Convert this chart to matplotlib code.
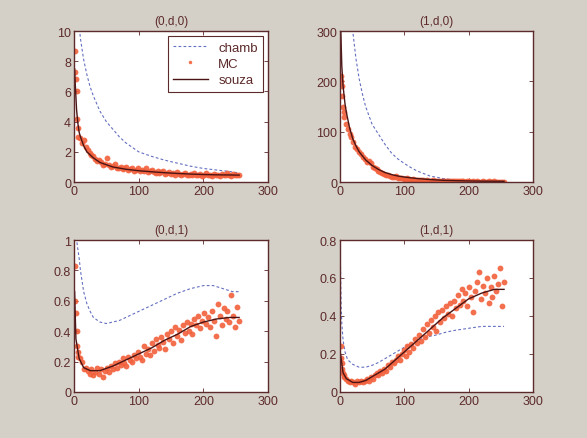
import numpy as np
import matplotlib
matplotlib.use('Agg')
import matplotlib.pyplot as plt

# positions en x des points Monte Carlo (communes aux 4 panneaux)
mc_x = [1, 2, 3, 4, 5, 6, 7] + list(range(9, 256, 3))

# ---- (0,d,0)
mc_000 = [8.7, 7.3, 6.8, 6.0, 4.2, 3.6, 3.0,
          2.9, 2.6, 2.8, 2.3, 2.1, 1.9, 1.8, 1.7, 1.5, 1.4,
          1.45, 1.3, 1.1, 1.2, 1.6, 1.1, 1.0, 1.05, 1.2, 0.95,
          0.9, 1.0, 0.85, 0.9, 1.0, 0.8, 0.85, 0.95, 0.75, 0.8,
          0.9, 0.7, 0.8, 0.75, 0.9, 0.65, 0.7, 0.8, 0.65, 0.6,
          0.75, 0.6, 0.65, 0.7, 0.55, 0.6, 0.65, 0.55, 0.6, 0.5,
          0.65, 0.55, 0.45, 0.55, 0.6, 0.5, 0.45, 0.55, 0.5, 0.6,
          0.45, 0.5, 0.55, 0.4, 0.5, 0.6, 0.45, 0.5, 0.4, 0.55,
          0.5, 0.45, 0.4, 0.55, 0.5, 0.45, 0.6, 0.5, 0.4, 0.55,
          0.5, 0.45, 0.5]
ch_x_000 = [5, 8, 10, 15, 20, 25, 30, 40, 50, 60, 70, 80, 90, 100, 120, 140, 160, 180, 200, 220, 240, 255]
ch_000 = [14, 10.4, 9.5, 8.1, 7.1, 6.3, 5.7, 4.7, 4.0, 3.5, 3.0, 2.6, 2.3, 2.0, 1.7, 1.45, 1.25, 1.05, 0.9, 0.8, 0.7, 0.6]
sz_x_000 = [1, 2, 4, 6, 8, 10, 15, 20, 30, 40, 50, 60, 80, 100, 120, 140, 160, 180, 200, 220, 240, 255]
sz_000 = [7.5, 6.5, 4.8, 3.9, 3.3, 3.0, 2.4, 2.0, 1.6, 1.3, 1.15, 1.0, 0.85, 0.75, 0.68, 0.62, 0.57, 0.53, 0.5, 0.48, 0.47, 0.46]

# ---- (1,d,0)
mc_100 = [210, 200, 190, 170, 150, 140, 130,
          115, 105, 95, 90, 80, 70, 65, 60, 55, 50,
          45, 40, 42, 38, 30, 28, 25, 22, 20, 18,
          16, 15, 14, 13, 11, 10, 12, 9, 8, 9,
          7, 6, 8, 6, 5, 6, 5, 4, 5, 4,
          4, 3, 4, 3, 3, 4, 3, 2, 3, 2,
          3, 2, 2, 3, 2, 2, 2, 3, 2, 2,
          2, 2, 1, 2, 2, 1, 2, 1, 2, 1,
          1, 2, 1, 1, 2, 1, 1, 2, 1, 1,
          1, 1, 1]
ch_x_100 = [15, 20, 25, 30, 35, 40, 50, 60, 70, 80, 90, 100, 110, 120, 140, 160, 180, 200, 220, 240, 255]
ch_100 = [380, 300, 245, 205, 175, 150, 115, 95, 75, 58, 46, 37, 29, 22, 12, 7, 4, 2.5, 1.5, 1.0, 0.7]
sz_x_100 = [1, 3, 5, 8, 10, 15, 20, 25, 30, 40, 50, 60, 70, 80, 90, 100, 120, 140, 160, 180, 200, 220, 255]
sz_100 = [320, 230, 190, 155, 139, 108, 86, 72, 60, 44, 33, 25, 19, 15, 12, 10, 7, 5, 3.5, 2.8, 2.2, 1.8, 1.5]

# ---- (0,d,1)
mc_001 = [0.83, 0.60, 0.52, 0.40, 0.30, 0.26, 0.23,
          0.22, 0.20, 0.15, 0.16, 0.14, 0.12, 0.15, 0.11, 0.13, 0.16,
          0.12, 0.15, 0.10, 0.14, 0.16, 0.13, 0.17, 0.15, 0.19, 0.16,
          0.20, 0.18, 0.22, 0.19, 0.17, 0.23, 0.21, 0.20, 0.24, 0.22,
          0.26, 0.23, 0.21, 0.30, 0.25, 0.28, 0.24, 0.32, 0.27, 0.35,
          0.31, 0.29, 0.36, 0.33, 0.28, 0.38, 0.35, 0.40, 0.32, 0.43,
          0.37, 0.41, 0.34, 0.44, 0.39, 0.46, 0.40, 0.45, 0.38, 0.48,
          0.44, 0.50, 0.42, 0.47, 0.52, 0.45, 0.49, 0.43, 0.53, 0.47,
          0.37, 0.58, 0.50, 0.44, 0.55, 0.48, 0.53, 0.46, 0.64, 0.50,
          0.43, 0.56, 0.47]
ch_x_001 = [3, 5, 8, 10, 15, 20, 25, 30, 40, 50, 60, 70, 80, 100, 120, 140, 160, 180, 200, 215, 230, 245, 255]
ch_001 = [1.05, 0.97, 0.88, 0.80, 0.66, 0.58, 0.53, 0.49, 0.46, 0.45, 0.46, 0.47, 0.49, 0.53, 0.57, 0.61, 0.65, 0.68, 0.70, 0.70, 0.68, 0.66, 0.66]
sz_x_001 = [1, 3, 8, 15, 25, 40, 60, 80, 100, 120, 140, 160, 180, 200, 220, 240, 255]
sz_001 = [0.66, 0.35, 0.22, 0.16, 0.14, 0.14, 0.17, 0.21, 0.25, 0.29, 0.34, 0.38, 0.43, 0.46, 0.48, 0.49, 0.49]

# ---- (1,d,1)
mc_101 = [0.24, 0.18, 0.15, 0.12, 0.10, 0.09, 0.08,
          0.07, 0.06, 0.05, 0.06, 0.05, 0.04, 0.06, 0.05, 0.06, 0.05,
          0.06, 0.07, 0.06, 0.08, 0.07, 0.09, 0.10, 0.09, 0.11, 0.10,
          0.12, 0.11, 0.14, 0.13, 0.16, 0.15, 0.17, 0.19, 0.17, 0.20,
          0.22, 0.19, 0.24, 0.21, 0.25, 0.23, 0.28, 0.26, 0.30, 0.27,
          0.33, 0.29, 0.36, 0.31, 0.38, 0.34, 0.40, 0.32, 0.42, 0.37,
          0.43, 0.39, 0.45, 0.41, 0.47, 0.40, 0.48, 0.44, 0.51, 0.46,
          0.54, 0.48, 0.52, 0.45, 0.55, 0.50, 0.42, 0.53, 0.58, 0.63,
          0.49, 0.56, 0.52, 0.60, 0.47, 0.55, 0.50, 0.61, 0.53, 0.57,
          0.65, 0.45, 0.58]
ch_x_101 = [1, 2, 3, 5, 8, 12, 20, 30, 40, 50, 60, 70, 80, 90, 100, 110, 120, 135, 150, 165, 180, 200, 220, 240, 255]
ch_101 = [0.66, 0.45, 0.36, 0.27, 0.21, 0.17, 0.145, 0.13, 0.13, 0.14, 0.155, 0.175, 0.195, 0.215, 0.235, 0.25, 0.27, 0.29, 0.30, 0.315, 0.325, 0.335, 0.345, 0.345, 0.345]
sz_x_101 = [1, 5, 10, 20, 30, 40, 50, 60, 70, 80, 90, 100, 120, 140, 160, 180, 200, 220, 240, 255]
sz_101 = [0.20, 0.10, 0.07, 0.05, 0.05, 0.06, 0.08, 0.10, 0.12, 0.15, 0.18, 0.21, 0.27, 0.33, 0.39, 0.44, 0.49, 0.52, 0.54, 0.54]

titres = ['(0,d,0)', '(1,d,0)', '(0,d,1)', '(1,d,1)']
ylims = [(0, 10), (0, 300), (0, 1), (0, 0.8)]
yticks = [[0, 2, 4, 6, 8, 10], [0, 100, 200, 300],
          [0, 0.2, 0.4, 0.6, 0.8, 1], [0, 0.2, 0.4, 0.6, 0.8]]
yticklabels = [['0', '2', '4', '6', '8', '10'], ['0', '100', '200', '300'],
               ['0', '0.2', '0.4', '0.6', '0.8', '1'], ['0', '0.2', '0.4', '0.6', '0.8']]
panneaux = [
    (mc_000, ch_x_000, ch_000, sz_x_000, sz_000),
    (mc_100, ch_x_100, ch_100, sz_x_100, sz_100),
    (mc_001, ch_x_001, ch_001, sz_x_001, sz_001),
    (mc_101, ch_x_101, ch_101, sz_x_101, sz_101),
]

fond = '#d4d0c8'
bord = '#5c2a2a'
c_mc = '#f2603c'
c_sz = '#4a1414'
c_ch = '#6470c0'

plt.rcParams['font.family'] = ['Liberation Sans', 'DejaVu Sans']
fig = plt.figure(figsize=(5.87, 4.39), dpi=100, facecolor=fond)

# positions des axes (style subplot matlab)
positions = [[0.126, 0.583, 0.331, 0.344], [0.579, 0.583, 0.329, 0.344],
             [0.126, 0.105, 0.331, 0.346], [0.579, 0.105, 0.329, 0.346]]

for i, (mc, chx, ch, szx, sz) in enumerate(panneaux):
    ax = fig.add_axes(positions[i])
    ax.set_facecolor('white')
    ax.plot(chx, ch, linestyle=(0, (2.5, 2)), color=c_ch, linewidth=0.8, label='chamb')
    ax.plot(mc_x, mc, linestyle='none', marker='o', markersize=4.2,
            color=c_mc, markeredgewidth=0, alpha=0.9, label='MC')
    ax.plot(szx, sz, color=c_sz, linewidth=1.0, label='souza')
    ax.set_xlim(0, 300)
    ax.set_ylim(*ylims[i])
    ax.set_xticks([0, 100, 200, 300])
    ax.set_yticks(yticks[i])
    ax.set_yticklabels(yticklabels[i])
    ax.tick_params(direction='in', top=True, right=True, length=3, width=0.6,
                   color=bord, labelcolor=bord, labelsize=9, pad=2)
    for s in ax.spines.values():
        s.set_color(bord)
        s.set_linewidth(1.0)
    ax.set_title(titres[i], fontsize=8.5, color=bord, pad=5)
    if i == 0:
        leg = ax.legend(loc='upper right', fontsize=9.5, fancybox=False,
                        framealpha=1, edgecolor=bord, borderpad=0.4,
                        handlelength=2.6, labelspacing=0.3, borderaxespad=0.4,
                        markerscale=0.6)
        leg.get_frame().set_linewidth(0.8)
        for t in leg.get_texts():
            t.set_color(bord)

fig.savefig('out.png', dpi=100, facecolor=fond)
